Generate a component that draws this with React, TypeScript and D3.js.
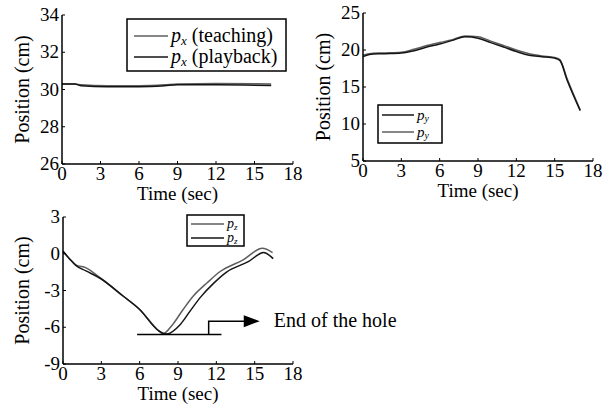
import React from "react";
import * as d3 from "d3";

// ---------- data ----------
const xTicks = [0, 3, 6, 9, 12, 15, 18];

const pxTime = [0, 1, 1.5, 3.5, 6, 8, 9, 12, 16.3];
const pxTeaching = [30.3, 30.3, 30.25, 30.2, 30.2, 30.25, 30.3, 30.32, 30.3];
const pxPlayback = [30.3, 30.3, 30.2, 30.15, 30.15, 30.2, 30.25, 30.25, 30.22];
const pxYTicks = [26, 28, 30, 32, 34];

const pyTime = [0, 0.5, 1.5, 3, 4, 5, 6, 7, 8, 9, 10, 11, 12, 13, 14, 15, 15.4, 16, 17];
const pyTeaching = [19.3, 19.5, 19.6, 19.7, 20.1, 20.6, 21.0, 21.4, 21.9, 21.8, 21.2, 20.6, 20.0, 19.5, 19.2, 19.0, 18.7, 16.0, 11.9];
const pyPlayback = [19.1, 19.4, 19.5, 19.6, 19.9, 20.4, 20.8, 21.3, 21.8, 21.6, 21.0, 20.4, 19.8, 19.3, 19.1, 18.9, 18.6, 15.8, 11.8];
const pyYTicks = [5, 10, 15, 20, 25];

const pzTimeTeaching = [0, 0.5, 1, 1.8, 2.9, 4.7, 6, 7.5, 7.8, 8.6, 9.4, 10.2, 11.3, 12.3, 14.1, 15.6, 16.4];
const pzTeaching = [0.2, -0.4, -0.9, -1.15, -1.95, -3.45, -4.55, -6.3, -6.55, -5.75, -4.55, -3.45, -2.35, -1.45, -0.5, 0.45, 0.1];
const pzTimePlayback = [0, 0.5, 1, 1.8, 2.9, 4.7, 6, 7.5, 8.1, 9.2, 10, 10.8, 11.8, 12.8, 14.5, 15.7, 16.45];
const pzPlayback = [0.2, -0.4, -0.95, -1.4, -2.0, -3.45, -4.55, -6.3, -6.55, -5.75, -4.6, -3.5, -2.4, -1.5, -0.65, 0.1, -0.4];
const pzYTicks = [-9, -6, -3, 0, 3];

const holeLevel = -6.6;
const holeStart = 5.8;
const holeEnd = 12.4;
const arrowStartT = 11.4;
const arrowLevel = -5.5;
const arrowEndT = 15.4;
const holeLabel = "End of the hole";

const FONT = "Liberation Serif, DejaVu Serif, Times New Roman, serif";
const TEACH = "#5e5e5e";
const PLAY = "#151515";

type PanelProps = {
  x0: number; x1: number; yTop: number; yBot: number;
  yDomain: [number, number]; yTicks: number[];
  series: { t: number[]; v: number[]; color: string }[];
  ylabelX: number; xlabelY: number;
  children?: (x: d3.ScaleLinear<number, number>, y: d3.ScaleLinear<number, number>) => React.ReactNode;
};

function Panel({ x0, x1, yTop, yBot, yDomain, yTicks, series, ylabelX, xlabelY, children }: PanelProps) {
  const x = d3.scaleLinear().domain([0, 18]).range([x0, x1]);
  const y = d3.scaleLinear().domain(yDomain).range([yBot, yTop]);
  return (
    <g>
      {series.map((s, i) => {
        const line = d3.line<number>().x((_, j) => x(s.t[j])).y((d) => y(d)).curve(d3.curveMonotoneX);
        return <path key={i} d={line(s.v) || ""} fill="none" stroke={s.color} strokeWidth={1.5} />;
      })}
      <line x1={x0} x2={x0} y1={yTop} y2={yBot} stroke="#000" strokeWidth={1.5} />
      <line x1={x0} x2={x1} y1={yBot} y2={yBot} stroke="#000" strokeWidth={1.5} />
      {xTicks.map((t) => (
        <g key={"xt" + t}>
          <line x1={x(t)} x2={x(t)} y1={yBot} y2={yBot - 3} stroke="#000" />
          <text x={x(t)} y={yBot + 16} textAnchor="middle" fontSize={19}>{t}</text>
        </g>
      ))}
      {yTicks.map((t) => (
        <g key={"yt" + t}>
          <line x1={x0} x2={x0 + 3} y1={y(t)} y2={y(t)} stroke="#000" />
          <text x={x0 - 3} y={y(t) + 6} textAnchor="end" fontSize={19}>{t}</text>
        </g>
      ))}
      <text x={(x0 + x1) / 2} y={xlabelY} textAnchor="middle" fontSize={19}>Time (sec)</text>
      <text transform={`translate(${ylabelX},${(yTop + yBot) / 2}) rotate(-90)`} textAnchor="middle" fontSize={20}>Position (cm)</text>
      {children && children(x, y)}
    </g>
  );
}

function LegendRow({ x1, x2, y, color, sym, sub, rest, size }: { x1: number; x2: number; y: number; color: string; sym: string; sub: string; rest: string; size: number }) {
  return (
    <g>
      <line x1={x1} x2={x2} y1={y} y2={y} stroke={color} strokeWidth={1.5} />
      <text x={x2 + 3} y={y + size * 0.3} fontSize={size}>
        <tspan fontStyle="italic">{sym}</tspan>
        <tspan fontStyle="italic" fontSize={size * 0.65} dy={size * 0.15}>{sub}</tspan>
        {rest ? <tspan dy={-size * 0.15}>{" " + rest}</tspan> : null}
      </text>
    </g>
  );
}

export default function App() {
  return (
    <svg width={606} height={406} style={{ position: "absolute", left: 0, top: 0, background: "#fff", fontFamily: FONT }}>
      <rect width={606} height={406} fill="#fff" />
      {/* Panel 1: px */}
      <Panel x0={62} x1={293} yTop={15} yBot={164} yDomain={[26, 34]} yTicks={pxYTicks}
        series={[{ t: pxTime, v: pxTeaching, color: TEACH }, { t: pxTime, v: pxPlayback, color: PLAY }]}
        ylabelX={29} xlabelY={200} />
      <rect x={127} y={19} width={159} height={52} fill="#fff" stroke="#000" strokeWidth={1.5} />
      <LegendRow x1={134} x2={168} y={36} color={TEACH} sym="p" sub="x" rest="(teaching)" size={20} />
      <LegendRow x1={134} x2={168} y={57} color={PLAY} sym="p" sub="x" rest="(playback)" size={20} />

      {/* Panel 2: py */}
      <Panel x0={363} x1={593} yTop={13} yBot={161} yDomain={[5, 25]} yTicks={pyYTicks}
        series={[{ t: pyTime, v: pyTeaching, color: TEACH }, { t: pyTime, v: pyPlayback, color: PLAY }]}
        ylabelX={330} xlabelY={197} />
      <rect x={378} y={105} width={64} height={38} fill="#fff" stroke="#000" strokeWidth={1.5} />
      <LegendRow x1={382} x2={414} y={115} color={PLAY} sym="p" sub="y" rest="" size={15} />
      <LegendRow x1={382} x2={414} y={132} color={TEACH} sym="p" sub="y" rest="" size={15} />

      {/* Panel 3: pz */}
      <Panel x0={63} x1={293} yTop={217} yBot={364} yDomain={[-9, 3]} yTicks={pzYTicks}
        series={[{ t: pzTimeTeaching, v: pzTeaching, color: TEACH }, { t: pzTimePlayback, v: pzPlayback, color: PLAY }]}
        ylabelX={29} xlabelY={400}>
        {(x, y) => (
          <g>
            <line x1={x(holeStart)} x2={x(holeEnd)} y1={y(holeLevel)} y2={y(holeLevel)} stroke="#000" strokeWidth={1.5} />
            <path d={`M${x(arrowStartT)},${y(holeLevel)} V${y(arrowLevel)} H${x(arrowEndT) - 14}`} fill="none" stroke="#000" strokeWidth={1.5} />
            <path d={`M${x(arrowEndT) - 16},${y(arrowLevel) - 6} L${x(arrowEndT)},${y(arrowLevel)} L${x(arrowEndT) - 16},${y(arrowLevel) + 6} Z`} fill="#000" />
            <text x={x(arrowEndT) + 14} y={y(arrowLevel) + 6} fontSize={20}>{holeLabel}</text>
          </g>
        )}
      </Panel>
      <rect x={187} y={215} width={57} height={31} fill="#fff" stroke="#000" strokeWidth={1.5} />
      <LegendRow x1={191} x2={224} y={224} color={TEACH} sym="p" sub="z" rest="" size={14} />
      <LegendRow x1={191} x2={224} y={238} color={PLAY} sym="p" sub="z" rest="" size={14} />
    </svg>
  );
}
